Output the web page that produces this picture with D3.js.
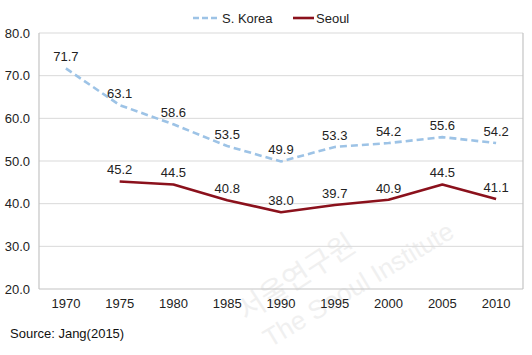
<!DOCTYPE html>
<html>
<head>
<meta charset="utf-8">
<script src="https://cdn.jsdelivr.net/npm/d3@7"></script>
<style>
  html, body { margin: 0; padding: 0; background: #fff; }
  svg { display: block; }
</style>
</head>
<body>
<svg id="chart" width="532" height="355"></svg>
<script>
const years = ["1970", "1975", "1980", "1985", "1990", "1995", "2000", "2005", "2010"];
const koreaValues = [71.7, 63.1, 58.6, 53.5, 49.9, 53.3, 54.2, 55.6, 54.2];
const seoulValues = [null, 45.2, 44.5, 40.8, 38.0, 39.7, 40.9, 44.5, 41.1];
const yTicks = [20, 30, 40, 50, 60, 70, 80];
const seriesNames = ["S. Korea", "Seoul"];
const sourceText = "Source: Jang(2015)";

const svg = d3.select("#chart");
const margin = { left: 39, right: 9, top: 33, bottom: 66 };
const W = 532, H = 355;
const font = "Arial, 'Liberation Sans', sans-serif";

const x = d3.scaleBand().domain(years).range([margin.left, W - margin.right]);
const y = d3.scaleLinear().domain([20, 80]).range([H - margin.bottom, margin.top]);
const cx = d => x(d) + x.bandwidth() / 2;

// watermark
const wm = svg.append("g").attr("fill", "#f0f0f0").attr("font-family", font);
wm.append("text").attr("transform", "translate(246,322) rotate(-33)")
  .attr("font-size", 29).attr("font-family", "'Noto Sans CJK KR', sans-serif")
  .text("서울연구원");
wm.append("text").attr("transform", "translate(270,348) rotate(-31)")
  .attr("font-size", 26).text("The Seoul Institute");

// gridlines
svg.append("g").selectAll("line").data(yTicks.slice(1)).join("line")
  .attr("x1", margin.left).attr("x2", W - margin.right)
  .attr("y1", d => y(d)).attr("y2", d => y(d))
  .attr("stroke", "#d9d9d9").attr("stroke-width", 1);

// frame: left, bottom, right
const frame = svg.append("g").attr("stroke", "#c4c4c4").attr("stroke-width", 1.2).attr("fill", "none");
frame.append("line").attr("x1", margin.left).attr("x2", margin.left).attr("y1", y(80)).attr("y2", y(20));
frame.append("line").attr("x1", W - margin.right).attr("x2", W - margin.right).attr("y1", y(80)).attr("y2", y(20));
frame.append("line").attr("x1", margin.left).attr("x2", W - margin.right).attr("y1", y(20)).attr("y2", y(20));

// y axis labels
const yAxis = d3.axisLeft(y).tickValues(yTicks).tickFormat(d3.format(".1f")).tickSize(0).tickPadding(9);
const gy = svg.append("g").attr("transform", `translate(${margin.left},0)`).call(yAxis);
gy.select(".domain").remove();
gy.selectAll("text").attr("font-family", font).attr("font-size", 13).attr("fill", "#222");

// x axis labels
const xAxis = d3.axisBottom(x).tickSize(0).tickPadding(10);
const gx = svg.append("g").attr("transform", `translate(0,${y(20)})`).call(xAxis);
gx.select(".domain").remove();
gx.selectAll("text").attr("font-family", font).attr("font-size", 13).attr("fill", "#222");

const koreaColor = "#9dc3e6", seoulColor = "#8b111c";
const line = d3.line().defined(d => d.v != null).x(d => cx(d.year)).y(d => y(d.v));
const kData = years.map((yr, i) => ({ year: yr, v: koreaValues[i] }));
const sData = years.map((yr, i) => ({ year: yr, v: seoulValues[i] }));

svg.append("path").datum(kData).attr("d", line).attr("fill", "none")
  .attr("stroke", koreaColor).attr("stroke-width", 2.6).attr("stroke-dasharray", "7,4");
svg.append("path").datum(sData).attr("d", line).attr("fill", "none")
  .attr("stroke", seoulColor).attr("stroke-width", 2.6).attr("stroke-linejoin", "round");

// data labels
function labels(data) {
  svg.append("g").selectAll("text").data(data.filter(d => d.v != null)).join("text")
    .attr("x", d => cx(d.year)).attr("y", d => y(d.v) - 7)
    .attr("text-anchor", "middle").attr("font-family", font).attr("font-size", 13).attr("fill", "#222")
    .text(d => d3.format(".1f")(d.v));
}
labels(kData);
labels(sData);

// legend
const lg = svg.append("g").attr("font-family", font).attr("font-size", 13).attr("fill", "#222");
lg.append("line").attr("x1", 193).attr("x2", 220).attr("y1", 18).attr("y2", 18)
  .attr("stroke", koreaColor).attr("stroke-width", 2.6).attr("stroke-dasharray", "6,3");
lg.append("text").attr("x", 222).attr("y", 22.5).text(seriesNames[0]);
lg.append("line").attr("x1", 293).attr("x2", 314).attr("y1", 18).attr("y2", 18)
  .attr("stroke", seoulColor).attr("stroke-width", 2.6);
lg.append("text").attr("x", 316).attr("y", 22.5).text(seriesNames[1]);

// source
svg.append("text").attr("x", 10).attr("y", 338)
  .attr("font-family", "'Liberation Sans Narrow', 'Liberation Sans', sans-serif").attr("font-size", 13).attr("fill", "#111")
  .text(sourceText);
</script>
</body>
</html>
